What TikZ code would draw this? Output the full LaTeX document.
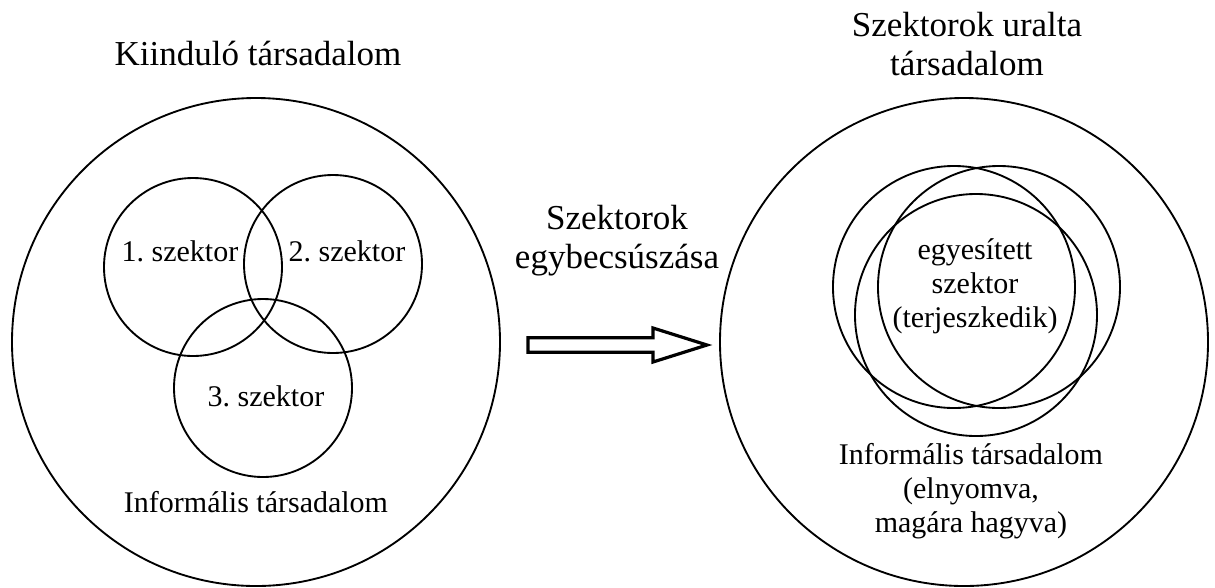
\documentclass[tikz,border=0pt]{standalone}
\usepackage{fontspec}
\setmainfont{Liberation Serif}
\usetikzlibrary{calc}
\frenchspacing
\colorlet{ringCol}{black}
\tikzset{
	ring/.style={draw=ringCol,line width=1.4pt},
	bigtext/.style={font=\fontsize{26.25}{29.25}\selectfont,align=center,anchor=base,inner sep=0pt},
	smalltext/.style={font=\fontsize{22.5}{25.5}\selectfont,align=center,anchor=base,inner sep=0pt},
	hollowarrow/.style={draw=ringCol,line width=2.4pt,fill=white,line join=miter}
}
\NewDocumentCommand\DrawRing{mmm}%
{%
\draw[ring] ({#1},{#2}) circle ({#3});%
}
\begin{document}
\begin{tikzpicture}[x=0.75pt,y=-0.75pt]
\useasboundingbox (0,0) rectangle (1215,587);
\DrawRing{256}{342}{244}
\DrawRing{964}{342}{244}
\foreach \cx/\cy in {193/267,333/264,263/388}
{
	\DrawRing{\cx}{\cy}{89}
}
\foreach \cx/\cy in {954/287,999/287,976/315}
{
	\DrawRing{\cx}{\cy}{121}
}
\node[bigtext] (titleL) at (258,65) {Kiinduló társadalom};
\node[bigtext] (titleR) at (967,75) {Szektorok uralta\\társadalom};
\node[bigtext] (shifttext) at (617,268) {Szektorok\\egybecsúszása};
\node[smalltext] (sector1) at (180,261) {1. szektor};
\node[smalltext] (sector2) at (347,261) {2. szektor};
\node[smalltext] (sector3) at (266,406) {3. szektor};
\node[smalltext] (merged) at (975,327) {egyesített\\szektor\\(terjeszkedik)};
\node[smalltext] (informalL) at (256,512) {Informális társadalom};
\node[smalltext] (informalR) at (971,532) {Informális társadalom\\(elnyomva,\\magára hagyva)};
\coordinate (arrowfrom) at (528,345);
\coordinate (arrowto) at (707,345);
\draw[hollowarrow] ($(arrowfrom)+(0,-7.2)$) -- ($(arrowto)+(-54,-7.2)$) -- ($(arrowto)+(-54,-17)$) -- (arrowto)
	-- ($(arrowto)+(-54,17)$) -- ($(arrowto)+(-54,7.2)$) -- ($(arrowfrom)+(0,7.2)$) -- cycle;
\end{tikzpicture}
\end{document}
